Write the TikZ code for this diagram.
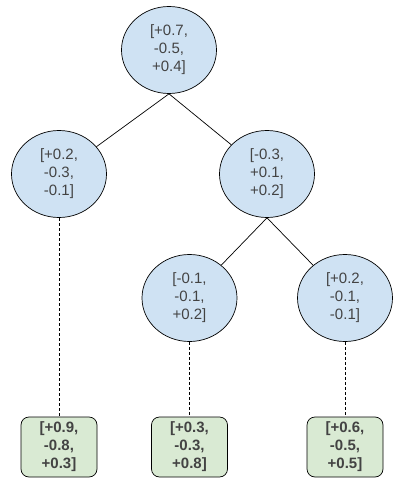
\documentclass[tikz,border=0pt]{standalone}
\usepackage{fontspec}
\setmainfont{Liberation Sans}
\usepackage{tikz}
\usetikzlibrary{shapes.geometric}

\definecolor{nodeblue}{HTML}{CFE2F3}
\definecolor{leafgreen}{HTML}{D9EAD3}
\definecolor{txtgray}{HTML}{434343}

\begin{document}
\begin{tikzpicture}[x=1pt,y=-1pt, line width=0.7pt,
  every node/.style={font=\fontsize{15}{18}\selectfont, text=txtgray, align=center},
  vec/.style={ellipse, draw, fill=nodeblue, minimum width=95pt, minimum height=87pt, inner sep=0pt},
  leaf/.style={draw, fill=leafgreen, rounded corners=8pt, minimum width=76pt, minimum height=60pt, inner sep=0pt, font=\fontsize{15}{18}\selectfont\bfseries},
  link/.style={line width=0.5pt, dash pattern=on 3pt off 2pt}]
\useasboundingbox (0,0) rectangle (404,492);
% inner nodes
\node[vec] (root) at (169,50) {[+0.7,\\-0.5,\\+0.4]};
\node[vec] (l) at (59,174) {[+0.2,\\-0.3,\\-0.1]};
\node[vec] (r) at (267,174) {[-0.3,\\+0.1,\\+0.2]};
\node[vec] (rl) at (189.5,298) {[-0.1,\\-0.1,\\+0.2]};
\node[vec] (rr) at (345,298) {[+0.2,\\-0.1,\\-0.1]};
% leaves
\node[leaf] (a) at (59,447) {[+0.9,\\-0.8,\\+0.3]};
\node[leaf] (b) at (189.5,447) {[+0.3,\\-0.3,\\+0.8]};
\node[leaf] (c) at (345,447) {[+0.6,\\-0.5,\\+0.5]};

\draw (root.south) -- (l);
\draw (root.south) -- (r);
\draw (r.south) -- (rl);
\draw (r.south) -- (rr);
\draw[link] (l.south) -- (a.north);
\draw[link] (rl.south) -- (b.north);
\draw[link] (rr.south) -- (c.north);
\end{tikzpicture}
\end{document}
